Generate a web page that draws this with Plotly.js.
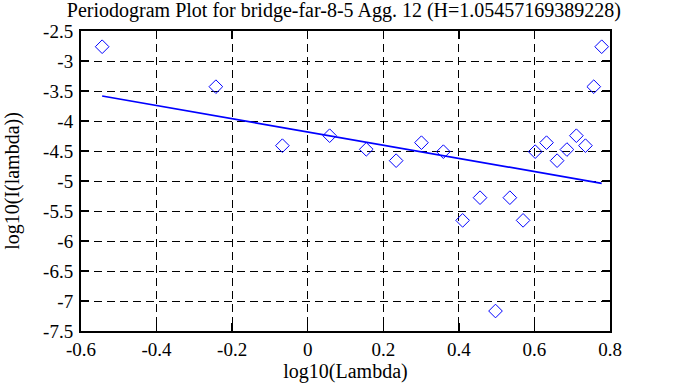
<!DOCTYPE html>
<html>
<head>
<meta charset="utf-8">
<script src="https://cdn.plot.ly/plotly-3.0.1.min.js"></script>
<style>html,body{margin:0;padding:0;background:#fff;}#chart{width:673px;height:387px;}</style>
</head>
<body>
<div id="chart"></div>
<script>
// Periodogram points: log10(lambda) vs log10(I(lambda))
const logLambda = [-0.544, -0.243, -0.067, 0.058, 0.155, 0.234, 0.301, 0.359, 0.410, 0.456, 0.497,
                   0.535, 0.570, 0.602, 0.632, 0.660, 0.686, 0.711, 0.735, 0.757, 0.778];
const logI = [-2.762, -3.428, -4.411, -4.245, -4.472, -4.661, -4.361, -4.511, -5.656, -5.278, -7.167,
              -5.278, -5.656, -4.511, -4.361, -4.661, -4.476, -4.245, -4.411, -3.428, -2.762];
// Fitted line end points
const fitX = [-0.544, 0.778];
const fitY = [-3.583, -5.039];
const xTicks = [-0.6, -0.4, -0.2, 0, 0.2, 0.4, 0.6, 0.8];
const xTickText = ['-0.6', '-0.4', '-0.2', '0', '0.2', '0.4', '0.6', '0.8'];
const yTicks = [-7.5, -7, -6.5, -6, -5.5, -5, -4.5, -4, -3.5, -3, -2.5];
const yTickText = ['-7.5', '-7', '-6.5', '-6', '-5.5', '-5', '-4.5', '-4', '-3.5', '-3', '-2.5'];
const titleText = 'Periodogram Plot for bridge-far-8-5 Agg. 12 (H=1.05457169389228)';

const fam = '"Liberation Serif", "Times New Roman", serif';
const tickFont = {family: fam, size: 19, color: '#000'};
const titleFont = {family: fam, size: 20, color: '#000'};

const traces = [
  {x: logLambda, y: logI, type: 'scatter', mode: 'markers',
   marker: {symbol: 'diamond-open', size: 10.5, color: '#0000ff', line: {width: 1, color: '#0000ff'}},
   hoverinfo: 'skip'},
  {x: fitX, y: fitY, type: 'scatter', mode: 'lines',
   line: {color: '#0000ff', width: 1.7}, hoverinfo: 'skip'}
];

const axisCommon = {
  showline: true, linecolor: '#000', linewidth: 2, mirror: 'ticks',
  ticks: 'inside', ticklen: 8, tickwidth: 1.5, tickcolor: '#000',
  showgrid: true, gridcolor: '#000', gridwidth: 1, griddash: '8px,5px',
  zeroline: false, tickfont: tickFont, tickmode: 'array'
};

const layout = {
  width: 673, height: 387,
  margin: {l: 81, r: 63, t: 31, b: 56},
  paper_bgcolor: '#fff', plot_bgcolor: '#fff',
  showlegend: false,
  font: tickFont,
  title: {text: titleText, font: titleFont,
          x: 0.511, xanchor: 'center', yref: 'container', y: 0.974, yanchor: 'middle'},
  xaxis: Object.assign({}, axisCommon, {
    range: [-0.6, 0.8], tickvals: xTicks, ticktext: xTickText,
    title: {text: 'log10(Lambda)', font: titleFont, standoff: 2}
  }),
  yaxis: Object.assign({}, axisCommon, {
    range: [-7.5, -2.5], tickvals: yTicks, ticktext: yTickText, ticklabelstandoff: 2,
    title: {text: 'log10(I(lambda))', font: titleFont, standoff: 18}
  })
};

Plotly.newPlot('chart', traces, layout, {displayModeBar: false, staticPlot: true});
</script>
</body>
</html>
